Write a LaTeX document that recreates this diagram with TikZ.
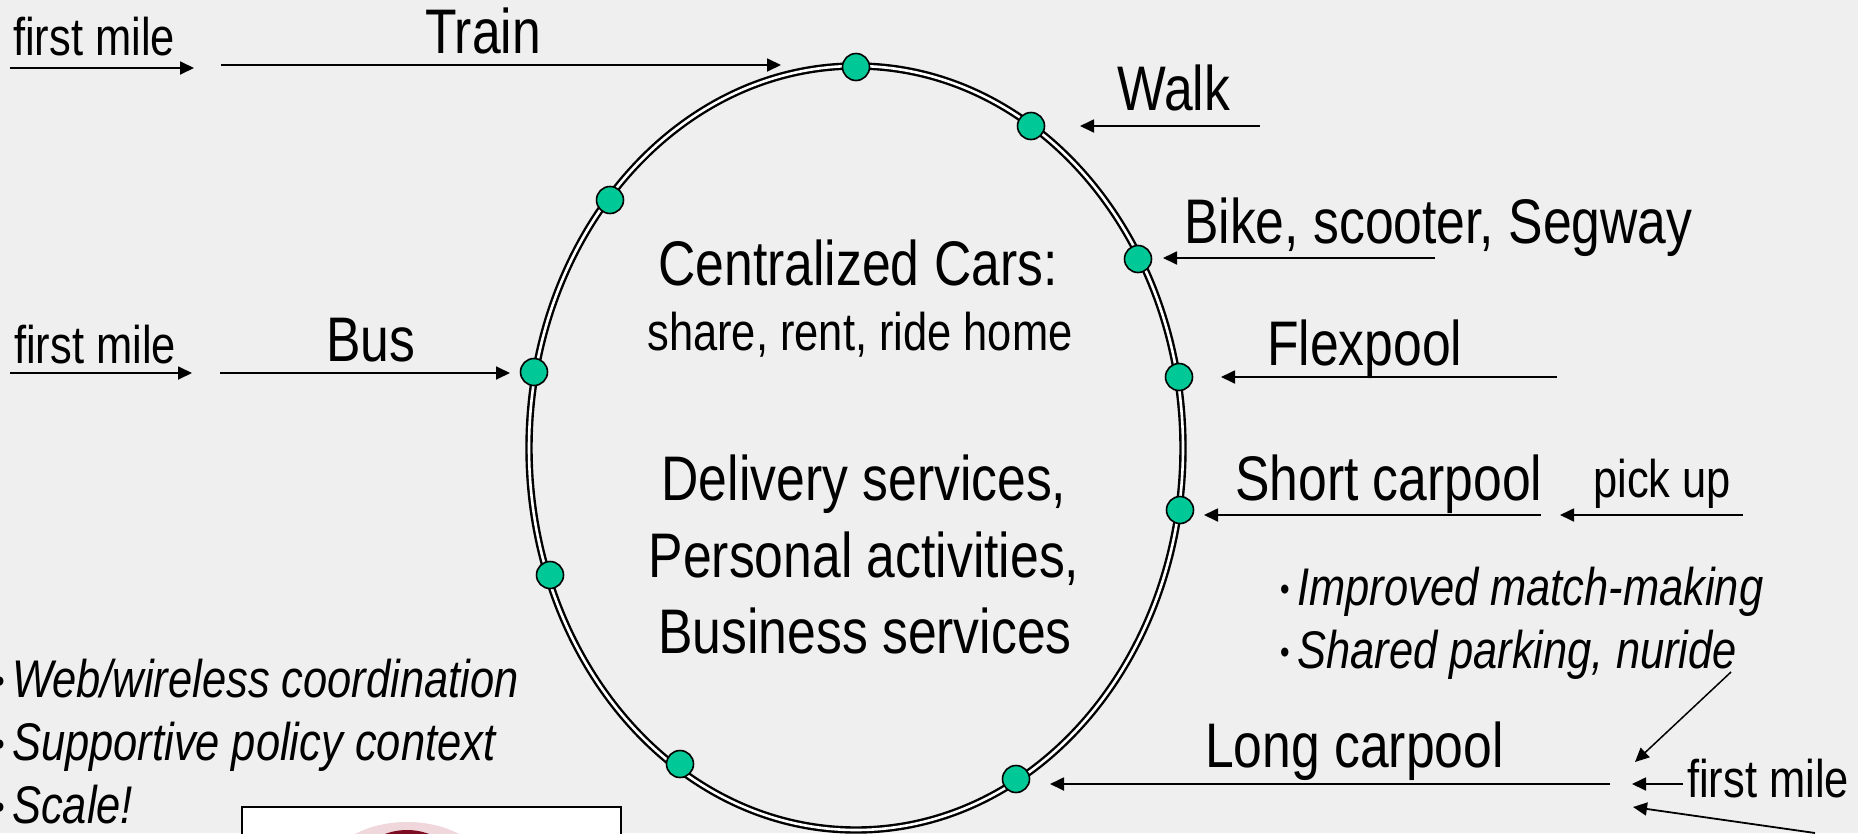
\documentclass[tikz,border=0pt]{standalone}
\usepackage{fontspec}
\setmainfont{Liberation Sans}[FakeStretch=0.82]
\usetikzlibrary{arrows.meta}
\definecolor{bg}{RGB}{239,239,239}
\definecolor{dotgreen}{RGB}{0,200,150}
\definecolor{logored}{RGB}{125,12,32}
\definecolor{logohalo}{RGB}{240,215,220}
\newcommand{\bul}{\makebox[17pt][l]{\raisebox{5pt}{\upshape\fontsize{33}{33}\selectfont •}}}
\tikzset{
  big/.style={font=\fontsize{63}{70}\selectfont, inner sep=0pt, anchor=base west},
  bigc/.style={font=\fontsize{63}{70}\selectfont, inner sep=0pt, anchor=base},
  small/.style={font=\fontsize{53}{60}\selectfont, inner sep=0pt, anchor=base west},
  smallc/.style={font=\fontsize{53}{60}\selectfont, inner sep=0pt, anchor=base},
  note/.style={font=\fontsize{53}{60}\selectfont\itshape, inner sep=0pt, anchor=base west},
  arr/.style={line width=1.8pt, -{Triangle[length=14pt,width=13pt]}},
  stop/.style={circle, draw=black, line width=1.6pt, fill=dotgreen, minimum size=27pt, inner sep=0pt},
  ring/.style={draw=black, line width=2.4pt, double=white, double distance=2.6pt}
}
\begin{document}
\begin{tikzpicture}[x=1pt,y=-1pt]
\useasboundingbox (0,0) rectangle (1858,833);
\fill[bg] (0,0) rectangle (1858,833);

% ring
\draw[ring] (856,448) ellipse [x radius=327pt, y radius=382pt];

% stops on the ring
\node[stop] (sTop)   at (856,67)  {};
\node[stop] (sWalk)  at (1031,126) {};
\node[stop] (sLU)    at (610,200) {};
\node[stop] (sBike)  at (1138,259) {};
\node[stop] (sBus)   at (534,372) {};
\node[stop] (sFlex)  at (1179,377) {};
\node[stop] (sShort) at (1180,510) {};
\node[stop] (sLL)    at (550,575) {};
\node[stop] (sBL)    at (680,764) {};
\node[stop] (sLong)  at (1016,779) {};

% arrow end points
\coordinate (fmA1) at (10,68);   \coordinate (fmB1) at (194,68);
\coordinate (trA) at (221,65);   \coordinate (trB) at (781,65);
\coordinate (fmA2) at (10,373);  \coordinate (fmB2) at (192,373);
\coordinate (buA) at (220,373);  \coordinate (buB) at (510,373);
\coordinate (waA) at (1260,126); \coordinate (waB) at (1080,126);
\coordinate (biA) at (1435,258); \coordinate (biB) at (1163,258);
\coordinate (flA) at (1557,377); \coordinate (flB) at (1221,377);
\coordinate (shA) at (1541,515); \coordinate (shB) at (1204,515);
\coordinate (puA) at (1743,515); \coordinate (puB) at (1560,515);
\coordinate (loA) at (1610,784); \coordinate (loB) at (1050,784);
\coordinate (fmA3) at (1683,784); \coordinate (fmB3) at (1632,784);
\coordinate (nuA) at (1731,672); \coordinate (nuB) at (1635,762);
\coordinate (btA) at (1815,833); \coordinate (btB) at (1633,807);

\draw[arr] (fmA1) -- (fmB1);
\draw[arr] (trA) -- (trB);
\draw[arr] (fmA2) -- (fmB2);
\draw[arr] (buA) -- (buB);
\draw[arr] (waA) -- (waB);
\draw[arr] (biA) -- (biB);
\draw[arr] (flA) -- (flB);
\draw[arr] (shA) -- (shB);
\draw[arr] (puA) -- (puB);
\draw[arr] (loA) -- (loB);
\draw[arr] (fmA3) -- (fmB3);
\draw[arr, line width=1.5pt] (nuA) -- (nuB);
\draw[arr] (btA) -- (btB);

% labels
\node[small] (tFm1) at (13,55) {first mile};
\node[big] (tTrain) at (425,53) {Train};
\node[small] (tFm2) at (14,363) {first mile};
\node[big] (tBus) at (326,361) {Bus};
\node[big] (tWalk) at (1117,110) {Walk};
\node[big] (tBike) at (1184,243) {Bike, scooter, Segway};
\node[big] (tFlex) at (1267,365) {Flexpool};
\node[big] (tShort) at (1235,500) {Short carpool};
\node[small] (tPick) at (1593,497) {pick up};
\node[big] (tLong) at (1205,767) {Long carpool};
\node[small] (tFm3) at (1687,797) {first mile};

\node[bigc] (tCent) at (858,285) {Centralized Cars:};
\node[smallc] (tShare) at (860,350) {share, rent, ride home};
\node[bigc] (tDel) at (864,500) {Delivery services,};
\node[bigc] (tPers) at (864,577) {Personal activities,};
\node[bigc] (tBus2) at (865,653) {Business services};

\node[note] (nImp) at (1280,605) {\bul Improved match-making};
\node[note] (nSha) at (1280,668) {\bul Shared parking, nuride};
\node[note] (nWeb) at (-5,697) {\bul Web/wireless coordination};
\node[note] (nSup) at (-5,760) {\bul Supportive policy context};
\node[note] (nSca) at (-5,823) {\bul Scale!};

% logo box (cut off at the bottom)
\begin{scope}
\clip (0,0) rectangle (1858,833);
\draw[fill=white, line width=1.5pt] (242,807) rectangle (621,850);
\fill[logohalo] (407,872) ellipse [x radius=80pt, y radius=50pt];
\fill[logored] (407,872) ellipse [x radius=52pt, y radius=42pt];
\end{scope}
\end{tikzpicture}
\end{document}
